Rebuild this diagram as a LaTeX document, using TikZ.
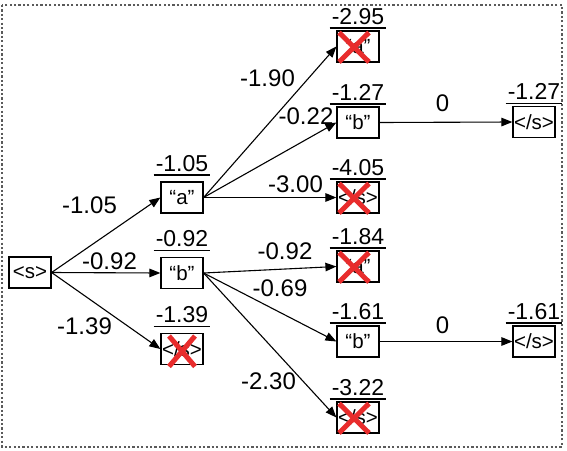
\documentclass[tikz,border=0pt]{standalone}
\usepackage{fontspec}
\setmainfont{Liberation Sans}
\usetikzlibrary{arrows.meta}
\definecolor{xred}{RGB}{232,44,44}
\definecolor{framegray}{RGB}{90,90,90}
\begin{document}
\begin{tikzpicture}[x=1pt,y=-1pt,
  tok/.style={draw, line width=1.2pt, minimum width=42pt, minimum height=31pt, inner sep=0pt, font=\fontsize{20.5}{22}\selectfont},
  score/.style={anchor=base, inner sep=0pt, font=\fontsize{23}{26}\selectfont,
    append after command={([xshift=-2pt,yshift=-3.5pt]\tikzlastnode.base west) edge[line width=1.4pt] ([xshift=2pt,yshift=-3.5pt]\tikzlastnode.base east)}},
  elab/.style={inner sep=0pt, font=\fontsize{24}{26}\selectfont},
  arr/.style={line width=1.1pt, -{Triangle[length=11pt,width=8.5pt]}},
  xmark/.style={draw=xred, line width=5pt},
  frame/.style={draw=framegray, line width=2pt, dash pattern=on 2.2pt off 2.2pt}]
\useasboundingbox (0,0) rectangle (567,450);
\draw[frame] (2,5) rectangle (562,446.5);
% tokens
\node[tok] (S)  at (30,272.5) {<s>};
\node[tok] (A1) at (182,197.5) {“a”};
\node[tok] (B1) at (182,273) {“b”};
\node[tok] (E1) at (182,349) {</s>};
\node[tok] (A2) at (358,46.5) {“a”};
\node[tok] (B2) at (358,122.5) {“b”};
\node[tok] (E2) at (358,197.5) {</s>};
\node[tok] (A3) at (358,266.5) {“a”};
\node[tok] (B3) at (358,341.5) {“b”};
\node[tok] (E3) at (358,417.5) {</s>};
\node[tok] (F1) at (534,122) {</s>};
\node[tok] (F2) at (534,341.5) {</s>};
% scores
\node[score] (sA1) at ([yshift=10pt]A1.north) {-1.05};
\node[score] (sB1) at ([yshift=10pt]B1.north) {-0.92};
\node[score] (sE1) at ([yshift=10pt]E1.north) {-1.39};
\node[score] (sA2) at ([yshift=6pt]A2.north) {-2.95};
\node[score] (sB2) at ([yshift=6pt]B2.north) {-1.27};
\node[score] (sE2) at ([yshift=6pt]E2.north) {-4.05};
\node[score] (sA3) at ([yshift=6pt]A3.north) {-1.84};
\node[score] (sB3) at ([yshift=6pt]B3.north) {-1.61};
\node[score] (sE3) at ([yshift=6pt]E3.north) {-3.22};
\node[score] (sF1) at ([yshift=6pt]F1.north) {-1.27};
\node[score] (sF2) at ([yshift=6pt]F2.north) {-1.61};
% edges
\draw[arr] (S.east) -- (A1.west);
\draw[arr] (S.east) -- (B1.west);
\draw[arr] (S.east) -- (E1.west);
\draw[arr] (A1.east) -- (A2.west);
\draw[arr] (A1.east) -- (B2.west);
\draw[arr] (A1.east) -- (E2.west);
\draw[arr] (B1.east) -- (A3.west);
\draw[arr] (B1.east) -- (B3.west);
\draw[arr] (B1.east) -- (E3.west);
\draw[arr] (B2.east) -- (F1.west);
\draw[arr] (B3.east) -- (F2.west);
% edge labels
\node[elab] (l1) at (89.5,205) {-1.05};
\node[elab] (l2) at (109.5,261) {-0.92};
\node[elab] (l3) at (84.5,326) {-1.39};
\node[elab] (l4) at (267.5,78) {-1.90};
\node[elab] (l5) at (306,116) {-0.22};
\node[elab] (l6) at (295.5,184.5) {-3.00};
\node[elab] (l7) at (285,251) {-0.92};
\node[elab] (l8) at (280,288) {-0.69};
\node[elab] (l9) at (268.5,381) {-2.30};
\node[elab] (l10) at (442.5,103) {0};
\node[elab] (l11) at (442.5,325) {0};
% pruned marks
\foreach \n in {A2,E2,A3,E3}{
  \draw[xmark] ([shift={(-19,-14)}]\n.center) -- ([shift={(11,15.5)}]\n.center);
  \draw[xmark] ([shift={(11,-14)}]\n.center) -- ([shift={(-19,15.5)}]\n.center);
}
\draw[xmark] ([shift={(-13,-13)}]E1.center) -- ([shift={(13,17.5)}]E1.center);
\draw[xmark] ([shift={(13,-13)}]E1.center) -- ([shift={(-13,17.5)}]E1.center);
\end{tikzpicture}
\end{document}
